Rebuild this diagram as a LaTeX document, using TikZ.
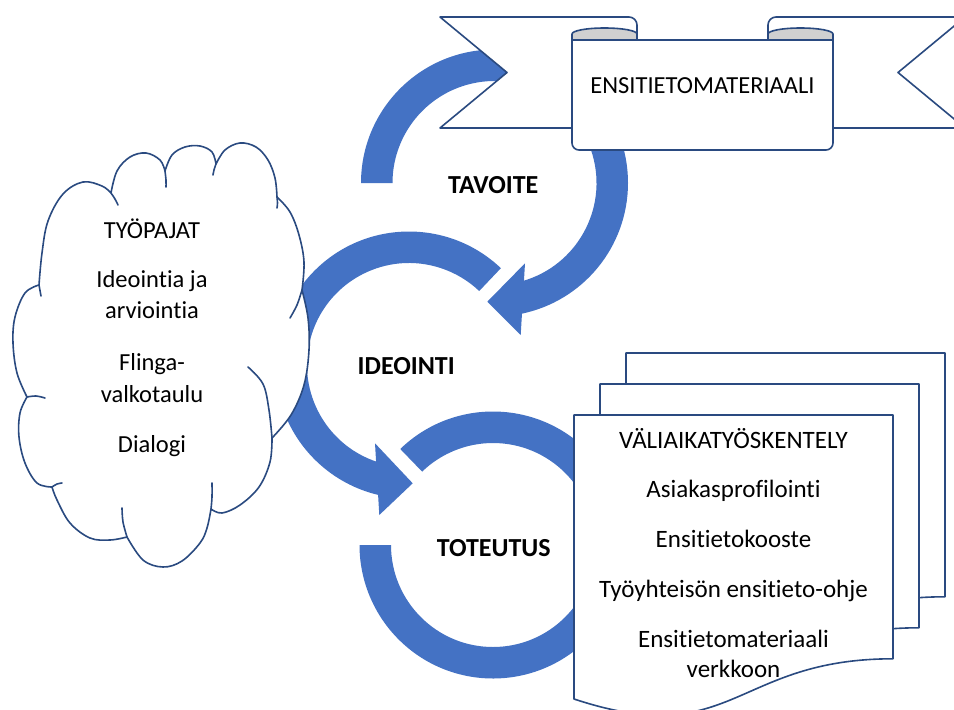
\documentclass[tikz,border=0pt]{standalone}
\usepackage{fontspec}
\setmainfont[Ligatures=NoCommon]{Carlito}
\usetikzlibrary{calc}
\definecolor{arrowblue}{HTML}{4472C4}
\definecolor{navyline}{HTML}{2A4A80}
\definecolor{curlgray}{HTML}{D0D0D0}
\begin{document}
\begin{tikzpicture}[x=1pt,y=-1pt,
  arrowfill/.style={fill=arrowblue},
  outl/.style={draw=navyline, line width=1.6pt, fill=white, line join=round},
  curl/.style={draw=navyline, line width=1.6pt, fill=curlgray, line join=round},
  hook/.style={draw=navyline, line width=1.6pt, line cap=round},
  txt/.style={font=\fontsize{24.5}{29}\selectfont, anchor=base, inner sep=0pt},
  doctxt/.style={font=\fontsize{25}{30}\selectfont, anchor=base, inner sep=0pt},
  lbl/.style={font=\fontsize{26}{31}\selectfont\bfseries, anchor=base, inner sep=0pt},
  lobe/.style={smooth, tension=0.6}]
\useasboundingbox (0,0) rectangle (954,710);
\clip (0,0) rectangle (954,710);
\fill[white] (0,0) rectangle (954,710);

% centres of the circular arrows
\coordinate (a1) at (494.5,183);
\coordinate (a2) at (409,365);
\coordinate (a3) at (493,545);

% arrow 1 (TAVOITE)
\fill[arrowfill] (a1) ++(180:133.5) arc[start angle=180, end angle=439, radius=133.5]
  -- ($(a1)+(434:102)$) arc[start angle=434, end angle=180, radius=102] -- cycle;
\fill[arrowfill] (525,263.3) -- (487.3,301.7) -- (520.7,335) -- cycle;

% arrow 2 (IDEOINTI)
\fill[arrowfill] (a2) ++(-46.5:133.5) arc[start angle=-46.5, end angle=-257, radius=133.5]
  -- ($(a2)+(-252:102)$) arc[start angle=-252, end angle=-46.5, radius=102] -- cycle;
\fill[arrowfill] (375,443.3) -- (412.7,483.3) -- (379.3,515) -- cycle;

% arrow 3 (TOTEUTUS)
\fill[arrowfill] (a3) ++(-134:133.5) arc[start angle=-134, end angle=180, radius=133.5]
  -- ($(a3)+(180:102)$) arc[start angle=180, end angle=-134, radius=102] -- cycle;

% cloud
\path[outl] plot[lobe] coordinates {(39,285) (42,253) (48,221) (63,194) (83,182) (102,186) (111,193)}
  -- plot[lobe] coordinates {(111,193) (117,171) (130,157) (146,153) (160,160) (165,171)}
  -- plot[lobe] coordinates {(165,171) (172,155) (185,147) (200,146) (212,152) (216,164)}
  -- plot[lobe] coordinates {(216,164) (225,150) (240,143) (256,147) (268,160) (275,178) (277,197)}
  -- plot[lobe] coordinates {(277,197) (290,212) (299,235) (304,262) (302,290)}
  -- plot[lobe] coordinates {(302,290) (308,318) (309,350) (304,385) (291,415) (272,438)}
  -- plot[lobe] coordinates {(272,438) (270,462) (259,487) (240,505) (222,513) (211,509)}
  -- plot[lobe] coordinates {(211,509) (207,528) (200,543) (182,561) (163,567) (143,560) (127,537)}
  -- plot[lobe] coordinates {(127,537) (110,540) (90,538) (70,523) (57,500) (52,487)}
  -- plot[lobe] coordinates {(52,487) (37,483) (25,463) (19,437) (20,413) (27,397)}
  -- plot[lobe] coordinates {(27,397) (17,373) (13,343) (15,317) (25,293) (39,285)}
  -- cycle;
\draw[hook] (39,285) -- (41,296);
\draw[hook] plot[lobe] coordinates {(111,193) (115,199) (118,205)};
\draw[hook] plot[lobe] coordinates {(165,171) (166,180) (166,187)};
\draw[hook] plot[lobe] coordinates {(216,164) (214,170) (213,175)};
\draw[hook] plot[lobe] coordinates {(277,197) (277.5,203) (277,208)};
\draw[hook] plot[lobe] coordinates {(302,290) (297,305) (290,318)};
\draw[hook] plot[lobe] coordinates {(248,367) (263,384) (269,410) (272,438)};
\draw[hook] plot[lobe] coordinates {(212,483) (212,497) (211,509)};
\draw[hook] plot[lobe] coordinates {(127,537) (123,522) (122,508)};
\draw[hook] plot[lobe] coordinates {(52,487) (57,484) (62,483)};
\draw[hook] plot[lobe] coordinates {(27,397) (36,396) (45,398)};

\node[txt] (c1) at (152,238) {TYÖPAJAT};
\node[txt] (c2) at (152,287) {Ideointia ja};
\node[txt] (c3) at (152,318) {arviointia};
\node[txt] (c4) at (152,370) {Flinga-};
\node[txt] (c5) at (152,402) {valkotaulu};
\node[txt] (c6) at (152,452) {Dialogi};

% ribbon
\path[outl] (440,17) -- (629,17) arc[start angle=-90, end angle=0, radius=8]
  -- (637,128) -- (440,128) -- (507,72.5) -- cycle;
\path[outl] (965,17) -- (776,17) arc[start angle=-90, end angle=-180, radius=8]
  -- (768,128) -- (965,128) -- (898,72.5) -- cycle;
\path[outl] (572,40) [rounded corners=7pt] -- (572,150) -- (833,150) [sharp corners] -- (833,40) -- cycle;
\path[curl] (572,40) -- (572,34) arc[start angle=180, end angle=360, x radius=32.5, y radius=6] -- (637,40) -- cycle;
\path[curl] (768,40) -- (768,34) arc[start angle=180, end angle=360, x radius=32.5, y radius=6] -- (833,40) -- cycle;
\node[txt] (ban) at (702.5,93) {ENSITIETOMATERIAALI};

% document stack
\path[outl] (626,353) -- (945,353) -- (945,596.8) .. controls (785.5,596.8) and (785.5,689.7) .. (626,637) -- cycle;
\path[outl] (600,384) -- (919,384) -- (919,627.8) .. controls (759.5,627.8) and (759.5,720.7) .. (600,668) -- cycle;
\path[outl] (574,415) -- (893,415) -- (893,658.8) .. controls (733.5,658.8) and (733.5,751.7) .. (574,699) -- cycle;
\node[doctxt] (d1) at (733.5,448) {VÄLIAIKATYÖSKENTELY};
\node[doctxt] (d2) at (733.5,497) {Asiakasprofilointi};
\node[doctxt] (d3) at (733.5,547) {Ensitietokooste};
\node[doctxt] (d4) at (733.5,597) {Työyhteisön ensitieto-ohje};
\node[doctxt] (d5) at (733.5,647) {Ensitietomateriaali};
\node[doctxt] (d6) at (733.5,677) {verkkoon};

% stage labels
\node[lbl] (tav) at (493.3,193) {TAVOITE};
\node[lbl] (ide) at (406.2,374) {IDEOINTI};
\node[lbl] (tot) at (493.8,556) {TOTEUTUS};
\end{tikzpicture}
\end{document}
